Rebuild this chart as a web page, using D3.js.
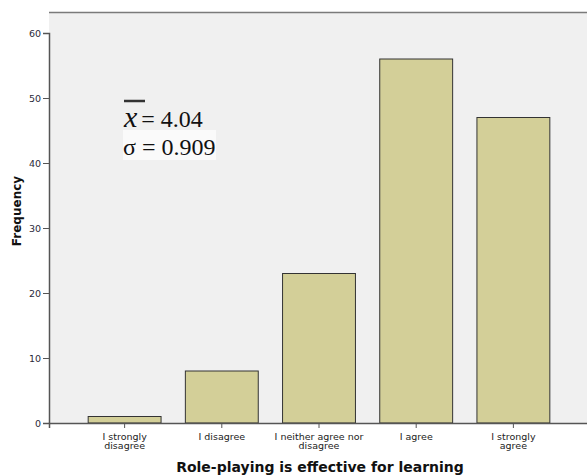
<!DOCTYPE html>
<html><head><meta charset="utf-8">
<script src="https://cdn.jsdelivr.net/npm/d3@7"></script>
<style>body{margin:0;background:#fff}svg{display:block}</style>
</head><body>
<script>
const categories = [["I strongly","disagree"],["I disagree"],["I neither agree nor","disagree"],["I agree"],["I strongly","agree"]];
const frequencies = [1, 8, 23, 56, 47];
const yTicks = [0, 10, 20, 30, 40, 50, 60];
const xTitle = "Role-playing is effective for learning";
const yTitle = "Frequency";

const W = 587, H = 476;
const mLeft = 49, mTop = 12, mBottom = 423, mRight = 589;
const svg = d3.select("body").append("svg").attr("width", W).attr("height", H);

const x = d3.scaleBand().domain(d3.range(categories.length)).range([mLeft, mRight])
  .paddingInner(0.25).paddingOuter(0.403);
const y = d3.scaleLinear().domain([0, 60]).range([mBottom, 33]);

svg.append("rect").attr("x", mLeft).attr("y", mTop).attr("width", mRight - mLeft).attr("height", mBottom - mTop)
  .attr("fill", "#f0f0f0");
svg.append("line").attr("x1", mLeft).attr("x2", mRight).attr("y1", mTop + 0.5).attr("y2", mTop + 0.5)
  .attr("stroke", "#7a7a7a").attr("stroke-width", 1.5);

svg.append("g").selectAll("rect").data(frequencies).join("rect")
  .attr("x", (d, i) => x(i)).attr("width", x.bandwidth())
  .attr("y", d => y(d)).attr("height", d => y(0) - y(d))
  .attr("fill", "#d3cf98").attr("stroke", "#333").attr("stroke-width", 1);

const yAxis = svg.append("g").attr("transform", `translate(${mLeft},0)`)
  .call(d3.axisLeft(y).tickValues(yTicks).tickSize(6).tickPadding(2));
yAxis.select(".domain").attr("stroke", "#555").attr("stroke-width", 1.5);
yAxis.selectAll(".tick line").attr("stroke", "#555");
yAxis.selectAll("text").attr("font-family", "DejaVu Sans").attr("font-size", 9.5).attr("fill", "#2a2a3a");

const xAxis = svg.append("g").attr("transform", `translate(0,${mBottom})`)
  .call(d3.axisBottom(x).tickSize(5).tickFormat(""));
xAxis.select(".domain").attr("stroke", "#555").attr("stroke-width", 1.5);
xAxis.selectAll(".tick line").attr("stroke", "#555");
xAxis.selectAll(".tick").each(function(d) {
  const t = d3.select(this).append("text").attr("text-anchor", "middle")
    .attr("font-family", "DejaVu Sans").attr("font-size", 9.5).attr("fill", "#222");
  categories[d].forEach((line, k) => t.append("tspan").attr("x", 0).attr("y", 16.5 + k * 9.5).text(line));
});

svg.append("text").attr("x", 320).attr("y", 472).attr("text-anchor", "middle")
  .attr("font-family", "DejaVu Sans").attr("font-weight", "bold").attr("font-size", 14).attr("fill", "#111")
  .text(xTitle);
svg.append("text").attr("transform", "translate(21,211) rotate(-90)").attr("text-anchor", "middle")
  .attr("font-family", "DejaVu Sans").attr("font-weight", "bold").attr("font-size", 12).attr("fill", "#111")
  .text(yTitle);

// statistics annotation
svg.append("rect").attr("x", 123).attr("y", 130).attr("width", 93).attr("height", 30).attr("fill", "#fafafa");
const xb = svg.append("text").attr("x", 124).attr("y", 127)
  .attr("font-family", "Liberation Serif").attr("font-size", 24).attr("fill", "#111");
xb.append("tspan").attr("font-style", "italic").attr("font-size", 30).text("x");
xb.append("tspan").attr("dx", 4).text("= 4.04");
svg.append("line").attr("x1", 124).attr("x2", 145).attr("y1", 101).attr("y2", 101)
  .attr("stroke", "#333").attr("stroke-width", 2.5);
svg.append("text").attr("x", 123).attr("y", 155)
  .attr("font-family", "Liberation Serif").attr("font-size", 24).attr("fill", "#111")
  .text("σ = 0.909");
</script>
</body></html>
